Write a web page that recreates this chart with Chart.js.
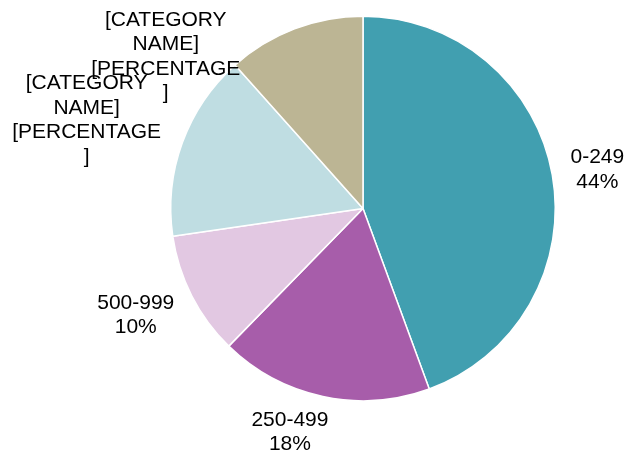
<!DOCTYPE html>
<html>
<head>
<meta charset="utf-8">
<script src="https://cdn.jsdelivr.net/npm/chart.js@4/dist/chart.umd.min.js"></script>
<style>
  html, body { margin: 0; padding: 0; background: #fff; }
  #wrap { width: 625px; height: 454px; }
</style>
</head>
<body>
<div id="wrap"><canvas id="pieChart"></canvas></div>
<script>
// distribution by range
var categories = ['0-249', '250-499', '500-999', '[CATEGORY NAME]', '[CATEGORY NAME]'];
var values = [44.4, 17.9, 10.4, 15.7, 11.6];
var showPercent = [true, true, true, false, false];
var colors = ['#419FB0', '#A75DAA', '#E2C8E2', '#BFDDE2', '#BCB594'];

// label centres, in pie radii from the centre of the pie
var labelOffsets = [[1.219, -0.203], [-0.380, 1.164], [-1.182, 0.555], [-1.4375, -0.458], [-1.026, -0.789]];

function wrapText(ctx, text, maxWidth) {
    var lines = [];
    var line = '';
    text.split(' ').forEach(function (word) {
        var test = line ? line + ' ' + word : word;
        if (ctx.measureText(test).width <= maxWidth) {
            line = test;
            return;
        }
        if (line) lines.push(line);
        line = '';
        // break long words by character
        var part = '';
        for (var i = 0; i < word.length; i++) {
            if (ctx.measureText(part + word[i]).width > maxWidth && part) {
                lines.push(part);
                part = '';
            }
            part += word[i];
        }
        line = part;
    });
    if (line) lines.push(line);
    return lines;
}

var sliceLabels = {
    id: 'sliceLabels',
    afterDatasetsDraw: function (chart) {
        var ctx = chart.ctx;
        var meta = chart.getDatasetMeta(0);
        var total = values.reduce(function (a, b) { return a + b; }, 0);
        ctx.save();
        ctx.font = '21px "Liberation Sans", Arial, sans-serif';
        ctx.fillStyle = '#000';
        ctx.textAlign = 'center';
        ctx.textBaseline = 'middle';
        meta.data.forEach(function (arc, i) {
            var r = arc.outerRadius;
            var cx = arc.x + labelOffsets[i][0] * r;
            var cy = arc.y + labelOffsets[i][1] * r;
            var lines;
            if (showPercent[i]) {
                lines = [categories[i], Math.round(values[i] / total * 100) + '%'];
            } else {
                lines = wrapText(ctx, categories[i], 150).concat(wrapText(ctx, '[PERCENTAGE]', 150));
            }
            var lh = 24.5;
            var y0 = cy - (lines.length - 1) * lh / 2;
            lines.forEach(function (t, k) {
                ctx.fillText(t, cx, y0 + k * lh);
            });
        });
        ctx.restore();
    }
};

var myPieChart = new Chart(document.getElementById('pieChart'), {
    type: 'pie',
    data: {
        labels: categories,
        datasets: [{
            data: values,
            backgroundColor: colors,
            borderColor: '#ffffff',
            borderWidth: 1.5
        }]
    },
    options: {
        responsive: true,
        maintainAspectRatio: false,
        animation: false,
        layout: { padding: { left: 170, right: 69, top: 15, bottom: 52 } },
        plugins: {
            legend: { display: false },
            tooltip: { enabled: false }
        }
    },
    plugins: [sliceLabels]
});
</script>
</body>
</html>
